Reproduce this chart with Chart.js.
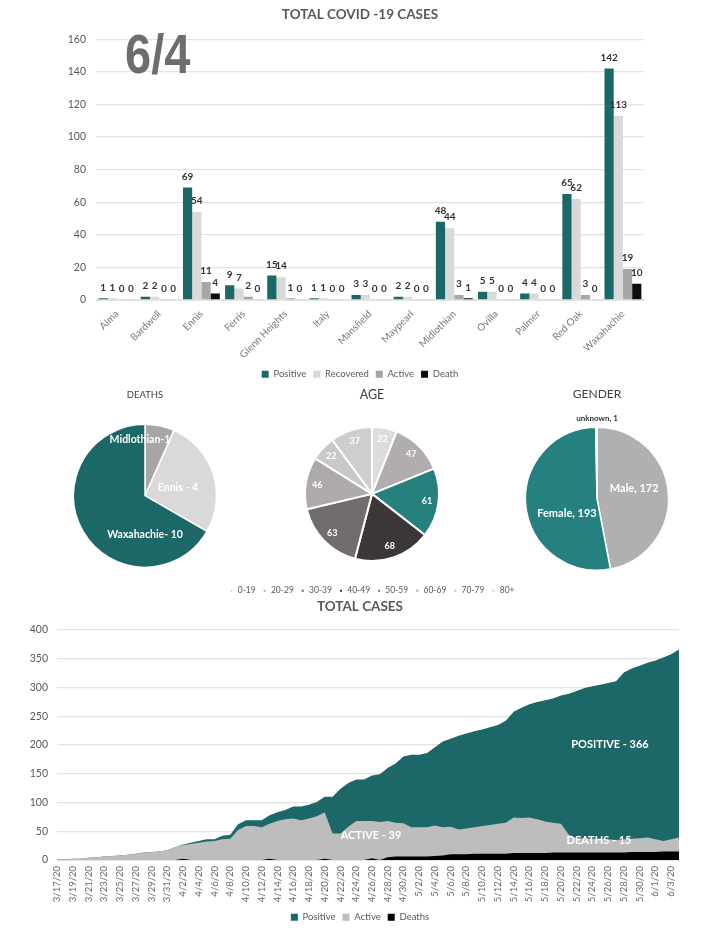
<!DOCTYPE html>
<html>
<head>
<meta charset="utf-8">
<script src="https://cdn.jsdelivr.net/npm/chart.js@4"></script>
<style>
  html, body { margin: 0; padding: 0; background: #fff; }
  body { position: relative; width: 720px; height: 932px; overflow: hidden; font-family: Lato, sans-serif; }
  canvas { position: absolute; }
  .stamp { position: absolute; left: 125px; top: 21px; font: bold 56px "Liberation Sans", sans-serif; color: #6e6c6c; transform-origin: left top; transform: scaleX(0.84); }
  .area-label { position: absolute; color: #fff; font: bold 11px Lato, sans-serif; transform: translate(-50%, -50%); white-space: nowrap; }
</style>
</head>
<body>
<canvas id="graficoCiudades" width="720" height="389" style="left:0;top:0"></canvas>
<canvas id="graficoMuertes" width="200" height="183" style="left:45px;top:385px"></canvas>
<canvas id="graficoEdad" width="360" height="220" style="left:192px;top:385px"></canvas>
<canvas id="graficoGenero" width="200" height="186" style="left:497px;top:385px"></canvas>
<canvas id="graficoTotal" width="720" height="334" style="left:0;top:598px"></canvas>
<div class="stamp">6/4</div>
<div class="area-label" style="left:610px;top:743px">POSITIVE - 366</div>
<div class="area-label" style="left:371px;top:834px">ACTIVE - 39</div>
<div class="area-label" style="left:599px;top:839px">DEATHS - 15</div>
<script>
  var ciudades = ['Alma', 'Bardwell', 'Ennis', 'Ferris', 'Glenn Heights', 'Italy', 'Mansfield', 'Maypearl', 'Midlothian', 'Ovilla', 'Palmer', 'Red Oak', 'Waxahachie'];
  var cPositive = [1, 2, 69, 9, 15, 1, 3, 2, 48, 5, 4, 65, 142];
  var cRecovered = [1, 2, 54, 7, 14, 1, 3, 2, 44, 5, 4, 62, 113];
  var cActive = [0, 0, 11, 2, 1, 0, 0, 0, 3, 0, 0, 3, 19];
  var cDeath = [0, 0, 4, 0, 0, 0, 0, 0, 1, 0, 0, 0, 10];

  var muertesLabels = ['Midlothian-1', 'Ennis - 4', 'Waxahachie- 10'];
  var muertesData = [1, 4, 10];

  var edadLabels = ['0-19', '20-29', '30-39', '40-49', '50-59', '60-69', '70-79', '80+'];
  var edadData = [22, 47, 61, 68, 63, 46, 22, 37];

  var generoLabels = ['Male, 172', 'Female, 193', 'unknown, 1'];
  var generoData = [172, 193, 1];

  var fechas = ['3/17/20', '3/18/20', '3/19/20', '3/20/20', '3/21/20', '3/22/20', '3/23/20', '3/24/20', '3/25/20', '3/26/20', '3/27/20', '3/28/20', '3/29/20', '3/30/20', '3/31/20',
    '4/1/20', '4/2/20', '4/3/20', '4/4/20', '4/5/20', '4/6/20', '4/7/20', '4/8/20', '4/9/20', '4/10/20', '4/11/20', '4/12/20', '4/13/20', '4/14/20', '4/15/20', '4/16/20', '4/17/20', '4/18/20', '4/19/20', '4/20/20', '4/21/20', '4/22/20', '4/23/20', '4/24/20', '4/25/20', '4/26/20', '4/27/20', '4/28/20', '4/29/20', '4/30/20',
    '5/1/20', '5/2/20', '5/3/20', '5/4/20', '5/5/20', '5/6/20', '5/7/20', '5/8/20', '5/9/20', '5/10/20', '5/11/20', '5/12/20', '5/13/20', '5/14/20', '5/15/20', '5/16/20', '5/17/20', '5/18/20', '5/19/20', '5/20/20', '5/21/20', '5/22/20', '5/23/20', '5/24/20', '5/25/20', '5/26/20', '5/27/20', '5/28/20', '5/29/20', '5/30/20', '5/31/20',
    '6/1/20', '6/2/20', '6/3/20', '6/4/20'];
  var totalPositive = [1, 1, 2, 2, 4, 5, 6, 7, 8, 9, 11, 13, 14, 15, 17,
    22, 27, 30, 33, 36, 36, 42, 44, 62, 69, 69, 69, 78, 83, 87, 93, 93, 96, 101, 110, 110, 124, 134, 140, 140, 147, 149, 160, 168, 180,
    183, 183, 186, 196, 206, 211, 216, 220, 224, 227, 231, 235, 242, 258, 265, 271, 275, 278, 281, 286, 289, 294, 299, 302, 305, 308, 311, 326, 333, 338, 343,
    347, 352, 358, 366];
  var totalActive = [1, 1, 2, 2, 4, 5, 6, 7, 8, 9, 11, 13, 14, 15, 17,
    22, 26, 28, 30, 32, 33, 36, 37, 52, 59, 59, 57, 63, 68, 71, 72, 69, 72, 76, 83, 46, 46, 58, 68, 68, 68, 66, 68, 65, 64,
    57, 57, 57, 60, 57, 58, 53, 55, 57, 59, 61, 63, 65, 74, 73, 74, 71, 67, 65, 63, 44, 38, 38, 37, 37, 36, 35, 36, 37, 38, 39,
    36, 33, 36, 39];
  var totalDeaths = [0, 0, 0, 0, 0, 0, 0, 0, 0, 0, 0, 0, 0, 0, 0,
    0, 2, 0, 0, 0, 0, 0, 0, 0, 0, 0, 0, 2, 0, 0, 0, 0, 0, 0, 2, 0, 0, 0, 0, 0, 3, 0, 5, 6, 6,
    6, 6, 6, 7, 8, 10, 10, 10, 11, 11, 11, 11, 11, 12, 12, 12, 12, 12, 13, 13, 13, 13, 13, 13, 13, 13, 13, 13, 14, 14, 14,
    14, 15, 15, 15];

  var gris = '#595959';
  var rejilla = '#e3e3e3';
  Chart.defaults.font.family = 'Lato, sans-serif';
  Chart.defaults.color = gris;
  Chart.defaults.animation = false;

  // eje invisible a la derecha: deja margen sin descentrar titulo y leyenda
  function margenDerecho(ancho) {
    return {
      position: 'right',
      min: 0,
      max: 1,
      afterFit: function(scale) { scale.width = ancho; },
      grid: { display: false },
      border: { display: false },
      ticks: { display: false }
    };
  }

  // numeros encima de las barras
  var etiquetasBarras = {
    id: 'etiquetasBarras',
    afterDatasetsDraw: function(chart) {
      var ctx = chart.ctx;
      ctx.save();
      ctx.font = 'bold 10px Lato, sans-serif';
      ctx.fillStyle = '#333';
      ctx.textAlign = 'center';
      ctx.textBaseline = 'middle';
      chart.data.datasets.forEach(function(ds, i) {
        chart.getDatasetMeta(i).data.forEach(function(bar, j) {
          ctx.fillText(ds.data[j], bar.x, bar.y - 11);
        });
      });
      ctx.restore();
    }
  };

  // texto dentro de las porciones: spots = desplazamiento desde el centro en fracciones del radio
  var textoPorciones = {
    id: 'textoPorciones',
    afterDatasetsDraw: function(chart, args, opts) {
      var ctx = chart.ctx;
      var arcs = chart.getDatasetMeta(0).data;
      ctx.save();
      ctx.textAlign = 'center';
      ctx.textBaseline = 'middle';
      arcs.forEach(function(arc, i) {
        var x, y;
        if (opts.spots) {
          x = arc.x + opts.spots[i][0] * arc.outerRadius;
          y = arc.y + opts.spots[i][1] * arc.outerRadius;
        } else {
          var mid = (arc.startAngle + arc.endAngle) / 2;
          x = arc.x + Math.cos(mid) * arc.outerRadius * 0.83;
          y = arc.y + Math.sin(mid) * arc.outerRadius * 0.83;
        }
        ctx.font = 'bold ' + (opts.sizes ? opts.sizes[i] : opts.size) + 'px Lato, sans-serif';
        ctx.fillStyle = opts.colors ? opts.colors[i] : '#fff';
        ctx.fillText(opts.texts ? opts.texts[i] : chart.data.datasets[0].data[i], x, y);
      });
      ctx.restore();
    }
  };

  new Chart(document.getElementById('graficoCiudades'), {
    type: 'bar',
    plugins: [etiquetasBarras],
    data: {
      labels: ciudades,
      datasets: [
        { label: 'Positive', data: cPositive, backgroundColor: '#1c6767' },
        { label: 'Recovered', data: cRecovered, backgroundColor: '#d9d9d9' },
        { label: 'Active', data: cActive, backgroundColor: '#a6a6a6' },
        { label: 'Death', data: cDeath, backgroundColor: '#0d0d0d' }
      ]
    },
    options: {
      responsive: false,
      datasets: { bar: { categoryPercentage: 0.875, barPercentage: 1 } },
      plugins: {
        title: { display: true, text: 'TOTAL COVID -19 CASES', color: gris, font: { size: 13.5, weight: 'bold' }, padding: { top: 7, bottom: 16 } },
        legend: { position: 'bottom', labels: { boxWidth: 7, boxHeight: 7, padding: 7, font: { size: 9.5 } } }
      },
      scales: {
        x: {
          grid: { display: false, drawTicks: false },
          border: { color: rejilla },
          afterFit: function(scale) { scale.height = 62.5; },
          ticks: { autoSkip: false, minRotation: 45, maxRotation: 45, padding: 8, color: '#7a7a7a', font: { size: 10 } }
        },
        y: {
          min: 0,
          max: 160,
          afterFit: function(scale) { scale.width = 96; },
          grid: { color: rejilla, lineWidth: 1.3, drawTicks: false },
          border: { display: false },
          ticks: { stepSize: 20, padding: 10, font: { size: 10.5 } }
        },
        margen: margenDerecho(76)
      }
    }
  });

  new Chart(document.getElementById('graficoMuertes'), {
    type: 'pie',
    plugins: [textoPorciones],
    data: {
      labels: muertesLabels,
      datasets: [{ data: muertesData, backgroundColor: ['#a6a6a6', '#d9d9d9', '#1c6767'], borderColor: '#fff', borderWidth: 1.5 }]
    },
    options: {
      responsive: false,
      plugins: {
        title: { display: true, text: 'DEATHS', color: '#404040', font: { size: 9.5, weight: 'normal' }, padding: { top: 4, bottom: 23 } },
        legend: { display: false },
        textoPorciones: { texts: muertesLabels, size: 10.5, spots: [[-0.07, -0.78], [0.46, -0.12], [0, 0.55]] }
      }
    }
  });

  new Chart(document.getElementById('graficoEdad'), {
    type: 'pie',
    plugins: [textoPorciones],
    data: {
      labels: edadLabels,
      datasets: [{ data: edadData, backgroundColor: ['#dcdcdc', '#b1adad', '#26807e', '#3b3738', '#716d6d', '#aeaaaa', '#c9c7c7', '#cfcdcd'], borderColor: '#fff', borderWidth: 2 }]
    },
    options: {
      responsive: false,
      radius: 67,
      plugins: {
        title: { display: true, text: 'AGE', color: '#404040', font: { size: 12.5, weight: 'normal' }, padding: { top: 2, bottom: 6.25 } },
        legend: { position: 'bottom', labels: { boxWidth: 4, boxHeight: 4, padding: 7, font: { size: 8.5 } } },
        textoPorciones: { size: 9 }
      }
    }
  });

  new Chart(document.getElementById('graficoGenero'), {
    type: 'pie',
    plugins: [textoPorciones],
    data: {
      labels: generoLabels,
      datasets: [{ data: generoData, backgroundColor: ['#b0b0b0', '#268080', '#d9d9d9'], borderColor: '#fff', borderWidth: 1.5 }]
    },
    options: {
      responsive: false,
      plugins: {
        title: { display: true, text: 'GENDER', color: '#404040', font: { size: 12, weight: 'normal' }, padding: { top: 2, bottom: 25 } },
        legend: { display: false },
        textoPorciones: {
          texts: generoLabels,
          sizes: [11, 11, 8],
          colors: ['#fff', '#fff', '#333'],
          spots: [[0.52, -0.14], [-0.42, 0.21], [0, -1.12]]
        }
      }
    }
  });

  new Chart(document.getElementById('graficoTotal'), {
    type: 'line',
    data: {
      labels: fechas,
      datasets: [
        { label: 'Positive', data: totalPositive, backgroundColor: '#1c6767', fill: 'origin', order: 3 },
        { label: 'Active', data: totalActive, backgroundColor: '#bdbdbd', fill: 'origin', order: 2 },
        { label: 'Deaths', data: totalDeaths, backgroundColor: '#000', fill: 'origin', order: 1 }
      ]
    },
    options: {
      responsive: false,
      elements: { point: { radius: 0 }, line: { borderWidth: 0, tension: 0 } },
      plugins: {
        title: { display: true, text: 'TOTAL CASES', color: gris, font: { size: 13.5, weight: 'bold' }, padding: { top: 1, bottom: 14.8 } },
        legend: {
          position: 'bottom',
          labels: {
            boxWidth: 7,
            boxHeight: 7,
            padding: 7,
            font: { size: 9.5 },
            sort: function(a, b) { return a.datasetIndex - b.datasetIndex; }
          }
        }
      },
      scales: {
        x: {
          offset: false,
          grid: { display: false, drawTicks: false },
          border: { color: rejilla },
          afterFit: function(scale) { scale.height = 45.5; },
          ticks: {
            autoSkip: false,
            minRotation: 90,
            maxRotation: 90,
            padding: 6,
            color: '#6a6a6a',
            font: { size: 9.5 },
            callback: function(v, i) { return i % 2 === 0 ? this.getLabelForValue(v) : ''; }
          }
        },
        y: {
          min: 0,
          max: 400,
          afterFit: function(scale) { scale.width = 57; },
          grid: { color: rejilla, lineWidth: 1.3, drawTicks: false },
          border: { display: false },
          ticks: { stepSize: 50, padding: 9, font: { size: 10.5 } }
        },
        margen: margenDerecho(41)
      }
    }
  });
</script>
</body>
</html>
